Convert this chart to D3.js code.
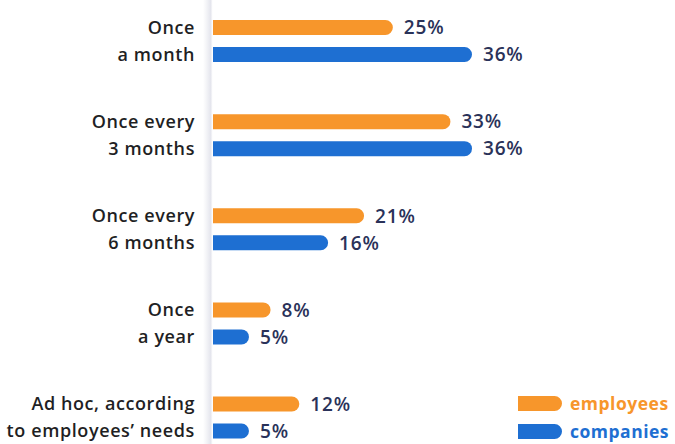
<!DOCTYPE html>
<html>
<head>
<meta charset="utf-8">
<script src="https://cdn.jsdelivr.net/npm/d3@7"></script>
<style>
  html, body { margin: 0; padding: 0; background: #ffffff; }
  svg { display: block; }
  text { font-family: "Open Sans", "Noto Sans", sans-serif; }
</style>
</head>
<body>
<div id="chart"></div>
<script>
const categories = [
  ["Once", "a month"],
  ["Once every", "3 months"],
  ["Once every", "6 months"],
  ["Once", "a year"],
  ["Ad hoc, according", "to employees\u2019 needs"]
];
const categoryKeys = ["month", "3months", "6months", "year", "adhoc"];
const seriesNames = ["employees", "companies"];
const employees = [25, 33, 21, 8, 12];
const companies = [36, 36, 16, 5, 5];
const colors = { employees: "#f7962b", companies: "#1e6fd2" };

const W = 675, H = 444;
const svg = d3.select("#chart").append("svg").attr("width", W).attr("height", H);

// subtle vertical shadow line
const defs = svg.append("defs");
const grad = defs.append("linearGradient").attr("id", "shade").attr("x1", "0").attr("x2", "1");
grad.append("stop").attr("offset", "0").attr("stop-color", "#e6e7ee").attr("stop-opacity", 0);
grad.append("stop").attr("offset", "0.8").attr("stop-color", "#e3e4ec").attr("stop-opacity", 1);
grad.append("stop").attr("offset", "1").attr("stop-color", "#ffffff").attr("stop-opacity", 0);
svg.append("rect").attr("x", 203).attr("y", 0).attr("width", 10).attr("height", H).attr("fill", "url(#shade)");

const x = d3.scaleLinear().domain([0, 36]).range([213, 472]);
const yGroup = d3.scalePoint().domain(categoryKeys).range([41, 417.5]);
const ySub = d3.scalePoint().domain(seriesNames).range([-13.5, 13.5]);
const barH = 15;

function barPath(x0, x1, yc, h) {
  const r = h / 2;
  const w = Math.max(x1 - x0, r);
  const p = d3.path();
  p.moveTo(x0, yc - r);
  p.lineTo(x0 + w - r, yc - r);
  p.arc(x0 + w - r, yc, r, -Math.PI / 2, Math.PI / 2);
  p.lineTo(x0, yc + r);
  p.closePath();
  return p.toString();
}

const data = [];
categoryKeys.forEach((k, i) => {
  data.push({ cat: k, s: "employees", v: employees[i] });
  data.push({ cat: k, s: "companies", v: companies[i] });
});

svg.append("g").selectAll("path").data(data).join("path")
  .attr("d", d => barPath(x(0), x(d.v), yGroup(d.cat) + ySub(d.s), barH))
  .attr("fill", d => colors[d.s]);

svg.append("g").selectAll("text").data(data).join("text")
  .attr("x", d => x(d.v) + 11)
  .attr("y", d => yGroup(d.cat) + ySub(d.s))
  .attr("dy", "0.36em")
  .attr("font-size", 19)
  .attr("font-weight", 600)
  .attr("letter-spacing", 0.8)
  .attr("fill", "#2a3259")
  .text(d => d.v + "%");

// category labels
const lab = svg.append("g").selectAll("text").data(categoryKeys).join("text")
  .attr("x", 195)
  .attr("text-anchor", "end")
  .attr("font-size", 18)
  .attr("font-weight", 600)
  .attr("letter-spacing", 0.6)
  .attr("fill", "#1f1f24");
lab.each(function(k, i) {
  const t = d3.select(this);
  categories[i].forEach((line, j) => {
    t.append("tspan").attr("x", 195)
      .attr("y", yGroup(k) + ySub(seriesNames[j]))
      .attr("dy", "0.36em")
      .text(line);
  });
});

// legend
const legY = d3.scalePoint().domain(seriesNames).range([403.5, 431.5]);
const leg = svg.append("g").selectAll("g").data(seriesNames).join("g");
leg.append("path")
  .attr("d", s => barPath(518, 562, legY(s), 15))
  .attr("fill", s => colors[s]);
leg.append("text")
  .attr("x", 570)
  .attr("y", s => legY(s))
  .attr("dy", "0.36em")
  .attr("font-size", 17.5)
  .attr("font-weight", 700)
  .attr("letter-spacing", 0.5)
  .attr("fill", s => colors[s])
  .text(s => s);
</script>
</body>
</html>
